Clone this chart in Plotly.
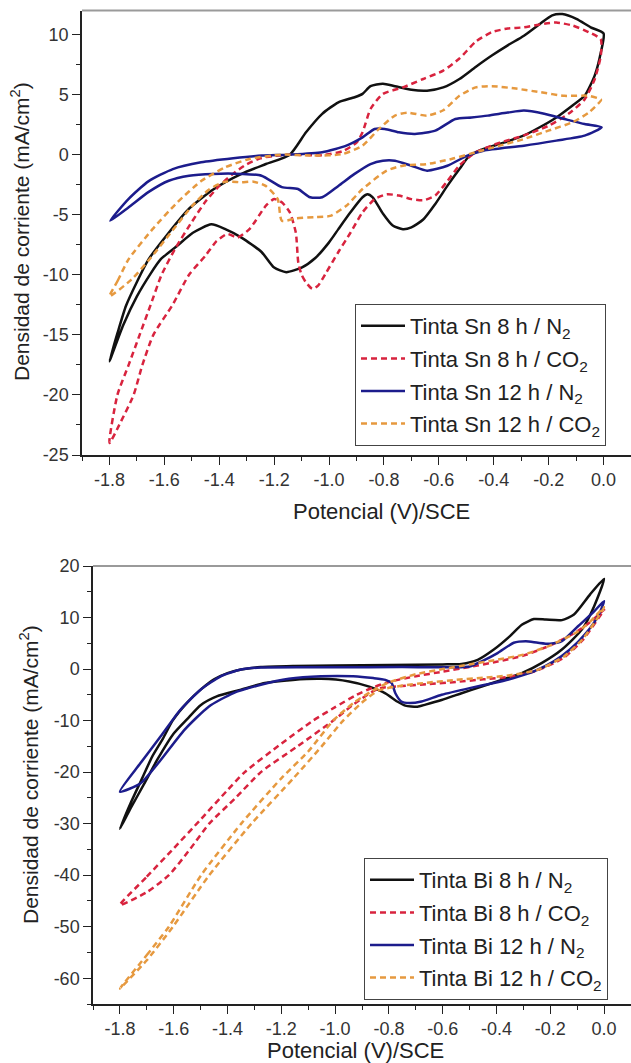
import plotly.graph_objects as go

# ---------------- DATA: Sn inks (top panel) ----------------
# Potential (V vs SCE) and current density (mA/cm2); loops = forward branch + return branch
sn8_n2_v_up = [-1.8, -1.77, -1.74, -1.70, -1.657, -1.584, -1.51, -1.422, -1.319, -1.23, -1.143, -1.084, -1.025,
               -0.966, -0.907, -0.878, -0.849, -0.804, -0.76, -0.70, -0.643, -0.584, -0.525, -0.466, -0.407,
               -0.349, -0.29, -0.231, -0.187, -0.15, -0.099, -0.047, 0.0]
sn8_n2_j_up = [-17.2, -14.8, -12.6, -10.6, -8.7, -6.5, -4.5, -2.9, -1.6, -0.78, 0.0, 1.86, 3.4,
               4.36, 4.78, 5.06, 5.7, 5.9, 5.7, 5.4, 5.33, 5.6, 6.3, 7.3, 8.25,
               9.1, 9.9, 10.9, 11.6, 11.7, 11.3, 10.6, 10.1]
sn8_n2_v_dn = [-0.01, -0.032, -0.069, -0.113, -0.172, -0.231, -0.29, -0.363, -0.437, -0.488, -0.525, -0.569,
               -0.613, -0.657, -0.70, -0.731, -0.768, -0.804, -0.841, -0.86, -0.878, -0.922, -0.966, -1.0,
               -1.05, -1.1, -1.156, -1.2, -1.246, -1.319, -1.378, -1.429, -1.496, -1.554, -1.613, -1.65,
               -1.7, -1.75, -1.8]
sn8_n2_j_dn = [8.5, 6.6, 4.9, 4.1, 3.1, 2.3, 1.6, 1.0, 0.47, -0.08, -1.2, -2.6,
               -4.1, -5.4, -6.05, -6.2, -5.9, -4.9, -3.55, -3.3, -3.55, -4.8, -6.2, -7.3,
               -8.6, -9.4, -9.78, -9.4, -8.1, -6.9, -6.2, -5.8, -6.5, -7.6, -8.7, -9.9,
               -11.8, -14.2, -17.2]

sn8_co2_v_up = [-1.8, -1.771, -1.73, -1.69, -1.65, -1.61, -1.56, -1.5, -1.45, -1.4, -1.35, -1.3, -1.25, -1.2,
                -1.143, -1.025, -0.95, -0.9, -0.878, -0.849, -0.804, -0.731, -0.657, -0.584, -0.525, -0.466,
                -0.407, -0.349, -0.29, -0.216, -0.172, -0.113, -0.054, -0.01]
sn8_co2_j_up = [-24, -20, -17.5, -15, -12.5, -10, -7.8, -5.6, -3.9, -2.6, -1.6, -0.8, -0.3, -0.1,
                0.0, -0.05, 0.3, 1.0, 1.86, 3.8, 5.05, 5.6, 6.3, 7.0, 8.0, 9.4,
                10.2, 10.5, 10.6, 10.9, 11.0, 10.75, 10.2, 9.6]
sn8_co2_v_dn = [-0.01, -0.032, -0.069, -0.128, -0.201, -0.29, -0.378, -0.466, -0.525, -0.569, -0.613, -0.657,
                -0.70, -0.746, -0.79, -0.834, -0.878, -0.922, -0.966, -1.01, -1.04, -1.061, -1.085, -1.1,
                -1.112, -1.121, -1.143, -1.172, -1.2, -1.23, -1.29, -1.334, -1.37, -1.41, -1.45, -1.51,
                -1.57, -1.64, -1.68, -1.712, -1.76, -1.8]
sn8_co2_j_dn = [8.25, 6.3, 4.6, 3.4, 2.4, 1.6, 1.0, 0.2, -0.9, -2.2, -3.4, -3.8,
                -3.7, -3.4, -3.3, -3.7, -4.8, -6.5, -8.1, -9.8, -10.9, -11.17, -10.6, -10.0,
                -9.0, -6.5, -4.8, -3.97, -3.7, -4.25, -6.2, -6.9, -6.6, -7.2, -8.4, -10.0,
                -12.5, -15, -17.5, -20, -22.3, -24]

sn12_n2_v_up = [-1.797, -1.731, -1.657, -1.569, -1.466, -1.349, -1.246, -1.143, -1.025, -0.937, -0.878, -0.834,
                -0.797, -0.746, -0.687, -0.613, -0.54, -0.481, -0.422, -0.349, -0.29, -0.216, -0.143, -0.069,
                -0.007]
sn12_n2_j_up = [-5.5, -3.7, -2.2, -1.2, -0.64, -0.3, -0.08, 0.0, 0.2, 0.75, 1.44, 2.14,
                2.14, 1.86, 1.72, 2.0, 2.97, 3.1, 3.25, 3.5, 3.67, 3.4, 2.97, 2.55,
                2.28]
sn12_n2_v_dn = [-0.069, -0.172, -0.29, -0.437, -0.496, -0.569, -0.643, -0.70, -0.76, -0.804, -0.849, -0.907,
                -0.966, -1.025, -1.069, -1.113, -1.172, -1.246, -1.319, -1.422, -1.51, -1.584, -1.657, -1.731,
                -1.797]
sn12_n2_j_dn = [1.58, 1.17, 0.75, 0.33, -0.08, -0.92, -1.33, -0.92, -0.5, -0.5, -0.78, -1.6,
                -2.6, -3.55, -3.55, -2.86, -2.7, -1.75, -1.6, -1.6, -1.75, -2.17, -3.1, -4.4,
                -5.5]

sn12_co2_v_up = [-1.8, -1.77, -1.73, -1.643, -1.554, -1.466, -1.378, -1.29, -1.172, -1.054, -0.951, -0.878,
                 -0.82, -0.76, -0.716, -0.643, -0.584, -0.525, -0.466, -0.407, -0.319, -0.231, -0.143, -0.054,
                 -0.01]
sn12_co2_j_up = [-11.8, -10.5, -8.7, -6.2, -4.0, -2.2, -1.05, -0.36, 0.0, -0.08, 0.05, 0.75,
                 2.1, 3.25, 3.5, 3.25, 3.7, 4.9, 5.6, 5.7, 5.5, 5.2, 4.9, 4.9,
                 4.6]
sn12_co2_v_dn = [-0.01, -0.054, -0.113, -0.201, -0.29, -0.378, -0.466, -0.554, -0.643, -0.731, -0.79, -0.878,
                 -0.937, -0.996, -1.054, -1.12, -1.172, -1.187, -1.231, -1.275, -1.319, -1.378, -1.437, -1.5,
                 -1.57, -1.65, -1.72, -1.8]
sn12_co2_j_dn = [4.5, 3.5, 2.7, 2.0, 1.3, 0.75, 0.2, -0.36, -0.78, -0.92, -1.33, -2.86,
                 -4.25, -5.1, -5.2, -5.3, -5.5, -3.7, -2.6, -2.25, -2.3, -2.25, -2.9, -4.3,
                 -6.3, -8.6, -10.4, -11.8]

# ---------------- DATA: Bi inks (bottom panel) ----------------
bi8_n2_v_up = [-1.8, -1.76, -1.72, -1.68, -1.64, -1.604, -1.55, -1.5, -1.45, -1.4, -1.35, -1.276, -1.15,
               -1.0, -0.8, -0.6, -0.53, -0.47, -0.41, -0.35, -0.306, -0.261, -0.216, -0.157, -0.112, -0.052, 0.0]
bi8_n2_j_up = [-31, -26, -21.5, -17, -13.5, -10, -6.5, -4.0, -2.0, -0.8, -0.1, 0.4, 0.6,
               0.7, 0.8, 0.9, 1.0, 1.8, 3.8, 6.4, 8.6, 9.7, 9.6, 9.5, 10.6, 14.5, 17.5]
bi8_n2_v_dn = [-0.037, -0.082, -0.157, -0.231, -0.306, -0.381, -0.455, -0.53, -0.604, -0.664, -0.694, -0.739,
               -0.769, -0.813, -0.873, -0.948, -1.052, -1.157, -1.261, -1.35, -1.44, -1.5, -1.55, -1.6,
               -1.66, -1.71, -1.76, -1.8]
bi8_n2_j_dn = [12.2, 7.7, 3.8, 1.2, -0.8, -2.1, -3.4, -4.7, -6.0, -6.9, -7.3, -7.1,
               -6.3, -4.7, -3.4, -2.4, -1.9, -2.1, -2.7, -4.0, -5.3, -7.0, -9.7, -12.5,
               -17.5, -22.3, -27, -31]

bi8_co2_v_up = [-1.8, -1.7, -1.6, -1.5, -1.4, -1.336, -1.2, -1.082, -1.0, -0.92, -0.86,
                -0.8, -0.7, -0.6, -0.5, -0.4, -0.3, -0.2, -0.1, -0.05, 0.0]
bi8_co2_j_up = [-45.8, -40.3, -34.8, -29.2, -23.5, -20, -14.5, -10, -7.4, -5.0, -3.6,
                -2.5, -1.4, -0.5, 0.4, 1.4, 2.6, 4.6, 7.3, 9.2, 11.5]
bi8_co2_v_dn = [-0.03, -0.08, -0.15, -0.25, -0.35, -0.45, -0.55, -0.65, -0.75, -0.84,
                -0.93, -1.007, -1.14, -1.276, -1.37, -1.468, -1.54, -1.618, -1.7, -1.8]
bi8_co2_j_dn = [9.2, 5.6, 2.2, -0.3, -1.5, -2.0, -2.5, -2.9, -3.3, -3.8,
                -6.8, -10, -15, -20, -25, -30, -35, -40, -43.3, -45.8]

bi12_n2_v_up = [-1.8, -1.724, -1.649, -1.575, -1.5, -1.425, -1.35, -1.276, -1.0, -0.754, -0.5, -0.455,
                -0.396, -0.336, -0.291, -0.246, -0.201, -0.157, -0.097, -0.037, 0.0]
bi12_n2_j_up = [-23.8, -18.3, -13.1, -7.9, -4.0, -1.4, -0.1, 0.3, 0.35, 0.4, 0.5, 1.5,
                3.1, 5.1, 5.4, 5.1, 4.9, 5.4, 8.3, 11.2, 13.2]
bi12_n2_v_dn = [-0.022, -0.067, -0.127, -0.187, -0.261, -0.336, -0.41, -0.5, -0.604, -0.679, -0.724, -0.754,
                -0.776, -0.79, -0.813, -0.858, -0.933, -1.052, -1.172, -1.276, -1.38, -1.47, -1.56, -1.649,
                -1.724, -1.8]
bi12_n2_j_dn = [10.3, 7.0, 3.8, 1.5, -0.45, -1.75, -2.7, -3.7, -5.0, -6.3, -6.6, -6.3,
                -4.7, -2.7, -2.1, -1.75, -1.4, -1.4, -1.9, -3.05, -4.7, -7.3, -11.8, -17.7,
                -22.2, -23.8]

bi12_co2_v_up = [-1.8, -1.7, -1.618, -1.498, -1.349, -1.2, -1.1, -1.007, -0.93, -0.86,
                 -0.8, -0.7, -0.6, -0.5, -0.4, -0.3, -0.2, -0.1, -0.05, 0.0]
bi12_co2_j_up = [-62, -55.5, -50, -40, -30, -21.2, -16, -10, -6.5, -4.2,
                 -2.6, -1.0, 0.0, 0.9, 1.8, 2.8, 4.6, 7.2, 9.3, 12.0]
bi12_co2_v_dn = [-0.03, -0.08, -0.15, -0.25, -0.35, -0.45, -0.55, -0.65, -0.75, -0.84,
                 -0.9, -0.97, -1.05, -1.155, -1.311, -1.468, -1.603, -1.7, -1.8]
bi12_co2_j_dn = [9.5, 5.8, 2.4, -0.2, -1.2, -1.7, -2.1, -2.6, -3.2, -4.2,
                 -6.5, -10, -15, -21.2, -30, -40, -50, -56.5, -62]

# ---------------- labels / ticks ----------------
sn_names = ["Tinta Sn 8 h / N<sub>2</sub>", "Tinta Sn 8 h / CO<sub>2</sub>",
            "Tinta Sn 12 h / N<sub>2</sub>", "Tinta Sn 12 h / CO<sub>2</sub>"]
bi_names = ["Tinta Bi 8 h / N<sub>2</sub>", "Tinta Bi 8 h / CO<sub>2</sub>",
            "Tinta Bi 12 h / N<sub>2</sub>", "Tinta Bi 12 h / CO<sub>2</sub>"]
x_tickvals = [-1.8, -1.6, -1.4, -1.2, -1.0, -0.8, -0.6, -0.4, -0.2, 0.0]
x_ticktext = ["-1.8", "-1.6", "-1.4", "-1.2", "-1.0", "-0.8", "-0.6", "-0.4", "-0.2", "0.0"]
x_minor = [-1.9, -1.7, -1.5, -1.3, -1.1, -0.9, -0.7, -0.5, -0.3, -0.1, 0.1]
sn_tickvals = [-25, -20, -15, -10, -5, 0, 5, 10]
sn_ticktext = ["-25", "-20", "-15", "-10", "-5", "0", "5", "10"]
sn_minor = [-22.5, -17.5, -12.5, -7.5, -2.5, 2.5, 7.5]
bi_tickvals = [-60, -50, -40, -30, -20, -10, 0, 10, 20]
bi_ticktext = ["-60", "-50", "-40", "-30", "-20", "-10", "0", "10", "20"]
bi_minor = [-65, -55, -45, -35, -25, -15, -5, 5, 15]
x_title = "Potencial (V)/SCE"
y_title = "Densidad de corriente (mA/cm<sup>2</sup>)"

# ---------------- styling ----------------
W, H = 631, 1063
FONT = "Liberation Sans, Arial, sans-serif"
colors = ["#111111", "#d8233e", "#1c1c8c", "#e6993f"]
dashes = ["solid", "6px,4px", "solid", "6px,4px"]

fig = go.Figure()

sn_series = [(sn8_n2_v_up, sn8_n2_j_up, sn8_n2_v_dn, sn8_n2_j_dn),
             (sn8_co2_v_up, sn8_co2_j_up, sn8_co2_v_dn, sn8_co2_j_dn),
             (sn12_n2_v_up, sn12_n2_j_up, sn12_n2_v_dn, sn12_n2_j_dn),
             (sn12_co2_v_up, sn12_co2_j_up, sn12_co2_v_dn, sn12_co2_j_dn)]
bi_series = [(bi8_n2_v_up, bi8_n2_j_up, bi8_n2_v_dn, bi8_n2_j_dn),
             (bi8_co2_v_up, bi8_co2_j_up, bi8_co2_v_dn, bi8_co2_j_dn),
             (bi12_n2_v_up, bi12_n2_j_up, bi12_n2_v_dn, bi12_n2_j_dn),
             (bi12_co2_v_up, bi12_co2_j_up, bi12_co2_v_dn, bi12_co2_j_dn)]

for panel, (series, names, xa, ya, leg) in enumerate([(sn_series, sn_names, "x", "y", "legend"),
                                                       (bi_series, bi_names, "x2", "y2", "legend2")]):
    for i, ((vu, ju, vd, jd), nm) in enumerate(zip(series, names)):
        assert len(vu) == len(ju) and len(vd) == len(jd), (nm, len(vu), len(ju), len(vd), len(jd))
        fig.add_trace(go.Scatter(
            x=vu + vd, y=ju + jd, mode="lines", name=nm,
            line=dict(color=colors[i], width=2.5, dash=dashes[i], shape="spline", smoothing=0.6),
            xaxis=xa, yaxis=ya, legend=leg, legendgroup=f"{panel}-{i}", showlegend=True))

def px_x(p):
    return p / W

def px_y(p):
    return 1 - p / H

axis_common = dict(showline=True, linecolor="#222", linewidth=1.5, showgrid=False, zeroline=False,
                   ticks="outside", ticklen=8, tickwidth=1.3, tickcolor="#222",
                   tickfont=dict(family=FONT, size=18, color="#333"), mirror=False)

top_dom_y = [px_y(455), px_y(10.5)]
bot_dom_y = [px_y(1004), px_y(566)]

legend_style = dict(xanchor="left", yanchor="top", bgcolor="white", bordercolor="#444", borderwidth=1,
                    font=dict(family=FONT, size=22, color="#222"), tracegroupgap=1, itemwidth=44)

fig.update_layout(
    width=W, height=H, margin=dict(l=0, r=0, t=0, b=0, autoexpand=False),
    paper_bgcolor="white", plot_bgcolor="white",
    xaxis=dict(axis_common, domain=[px_x(82), 1], range=[-1.9, 0.1], anchor="y",
               tickvals=x_tickvals, ticktext=x_ticktext,
               minor=dict(tickvals=x_minor, ticklen=4, ticks="outside", tickcolor="#222")),
    yaxis=dict(axis_common, domain=top_dom_y, range=[-25, 12], anchor="x",
               tickvals=sn_tickvals, ticktext=sn_ticktext,
               minor=dict(tickvals=sn_minor, ticklen=4, ticks="outside", tickcolor="#222")),
    xaxis2=dict(axis_common, domain=[px_x(93), 1], range=[-1.9, 0.1], anchor="y2",
                tickvals=x_tickvals, ticktext=x_ticktext,
                minor=dict(tickvals=x_minor, ticklen=4, ticks="outside", tickcolor="#222")),
    yaxis2=dict(axis_common, domain=bot_dom_y, range=[-65, 20], anchor="x2",
                tickvals=bi_tickvals, ticktext=bi_ticktext,
                minor=dict(tickvals=bi_minor, ticklen=4, ticks="outside", tickcolor="#222")),
    legend=dict(legend_style, x=px_x(355), y=px_y(304)),
    legend2=dict(legend_style, x=px_x(364), y=px_y(858)),
    shapes=[dict(type="line", xref="paper", yref="paper", x0=px_x(82), x1=1, y0=px_y(10.5), y1=px_y(10.5),
                 line=dict(color="#9a9a9a", width=2)),
            dict(type="line", xref="paper", yref="paper", x0=px_x(93), x1=1, y0=px_y(566), y1=px_y(566),
                 line=dict(color="#9a9a9a", width=2))],
    annotations=[
        dict(text=x_title, x=px_x(381), y=px_y(511), xref="paper", yref="paper", showarrow=False,
             xanchor="center", yanchor="middle", font=dict(family=FONT, size=22, color="#222")),
        dict(text=x_title, x=px_x(356), y=px_y(1050), xref="paper", yref="paper", showarrow=False,
             xanchor="center", yanchor="middle", font=dict(family=FONT, size=22, color="#222")),
        dict(text=y_title, x=px_x(20), y=px_y(232), xref="paper", yref="paper", showarrow=False,
             textangle=-90, xanchor="center", yanchor="middle", font=dict(family=FONT, size=21, color="#222")),
        dict(text=y_title, x=px_x(29), y=px_y(775), xref="paper", yref="paper", showarrow=False,
             textangle=-90, xanchor="center", yanchor="middle", font=dict(family=FONT, size=21, color="#222")),
    ],
)

fig.write_html("out.html")
